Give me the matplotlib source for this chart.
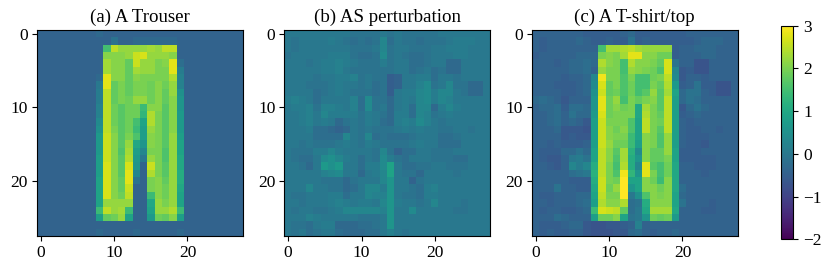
import numpy as np
import matplotlib
matplotlib.use('Agg')  # no display
import matplotlib.pyplot as plt

plt.rcParams['font.family'] = ['Liberation Serif', 'DejaVu Serif']

titles = ['(a) A Trouser', '(b) AS perturbation', '(c) A T-shirt/top']
xticks = [0, 10, 20]
yticks = [0, 10, 20]
cbar_ticks = [-2, -1, 0, 1, 2, 3]

# pixel values, in tenths
trouser = [
    [-4,-4,-4,-4,-4,-4,-4,-4,-3,-4,-4,-4,-4,-4,-4,-4,-4,-4,-4,-4,-4,-4,-4,-4,-4,-4,-4,-4],
    [-4,-4,-4,-4,-4,-4,-4,-4,-4,-4,-1,-4,-4,-3,-3,-3,-3,-3,-3,-4,-4,-4,-4,-4,-4,-4,-4,-4],
    [-4,-4,-4,-4,-4,-4,-4,-4,-4,15,25,22,22,22,22,23,22,25,25,-4,-4,-4,-4,-4,-4,-4,-4,-4],
    [-4,-4,-4,-4,-4,-4,-4,-4,-4,21,21,21,22,26,27,22,22,22,21,-4,-4,-4,-4,-4,-4,-4,-4,-4],
    [-4,-4,-4,-4,-4,-4,-4,-4,-4,23,21,21,18,26,22,22,20,21,28,-2,-4,-4,-4,-4,-4,-4,-4,-4],
    [-4,-4,-4,-4,-4,-4,-4,-4,-4,23,21,21,18,23,22,22,20,20,28,1,-4,-4,-4,-4,-4,-4,-4,-4],
    [-4,-4,-4,-4,-4,-4,-4,-4,-3,28,21,21,18,21,20,20,20,20,24,2,-4,-4,-4,-4,-4,-4,-4,-4],
    [-4,-4,-4,-4,-4,-4,-4,-4,0,28,18,20,18,20,20,19,21,19,22,2,-4,-4,-4,-4,-4,-4,-4,-4],
    [-4,-4,-4,-4,-4,-4,-4,-4,1,25,18,20,18,20,20,19,21,18,22,5,-4,-4,-4,-4,-4,-4,-4,-4],
    [-4,-4,-4,-4,-4,-4,-4,-4,1,25,18,20,19,22,22,19,21,18,21,6,-4,-4,-4,-4,-4,-4,-4,-4],
    [-4,-4,-4,-4,-4,-4,-4,-4,2,25,19,17,19,19,14,21,21,17,21,6,-4,-4,-4,-4,-4,-4,-4,-4],
    [-4,-4,-4,-4,-4,-4,-4,-4,2,25,19,17,19,19,13,24,20,17,21,7,-4,-4,-4,-4,-4,-4,-4,-4],
    [-4,-4,-4,-4,-4,-4,-4,-4,4,25,19,17,19,15,9,24,20,17,21,7,-4,-4,-4,-4,-4,-4,-4,-4],
    [-4,-4,-4,-4,-4,-4,-4,-4,5,25,20,17,19,14,8,22,20,17,21,7,-4,-4,-4,-4,-4,-4,-4,-4],
    [-4,-4,-4,-4,-4,-4,-4,-4,7,26,21,17,20,16,8,21,20,17,22,8,-4,-4,-4,-4,-4,-4,-4,-4],
    [-4,-4,-4,-4,-4,-4,-4,-4,7,26,21,17,22,10,6,21,20,17,22,9,-4,-4,-4,-4,-4,-4,-4,-4],
    [-4,-4,-4,-4,-4,-4,-4,-4,7,26,21,16,23,8,3,20,20,16,22,9,-4,-4,-4,-4,-4,-4,-4,-4],
    [-4,-4,-4,-4,-4,-4,-4,-4,8,26,21,17,24,7,0,22,20,16,22,10,-4,-4,-4,-4,-4,-4,-4,-4],
    [-4,-4,-4,-4,-4,-4,-4,-4,8,27,21,17,27,6,-4,26,20,17,22,10,-4,-4,-4,-4,-4,-4,-4,-4],
    [-4,-4,-4,-4,-4,-4,-4,-4,8,27,21,17,28,3,-4,24,20,17,22,11,-4,-4,-4,-4,-4,-4,-4,-4],
    [-4,-4,-4,-4,-4,-4,-4,-4,9,27,21,18,28,-1,-4,20,21,18,22,11,-4,-4,-4,-4,-4,-4,-4,-4],
    [-4,-4,-4,-4,-4,-4,-4,-4,9,27,21,18,26,-4,-4,20,21,19,22,10,-4,-4,-4,-4,-4,-4,-4,-4],
    [-4,-4,-4,-4,-4,-4,-4,-4,9,27,21,19,25,-4,-4,14,21,19,22,9,-4,-4,-4,-4,-4,-4,-4,-4],
    [-4,-4,-4,-4,-4,-4,-4,-4,9,22,22,22,22,-4,-4,10,22,20,22,9,-4,-4,-4,-4,-4,-4,-4,-4],
    [-4,-4,-4,-4,-4,-4,-4,-4,14,25,22,23,14,-4,-4,9,22,22,24,14,-4,-4,-4,-4,-4,-4,-4,-4],
    [-4,-4,-4,-4,-4,-4,-4,-4,8,18,19,22,9,-4,-4,7,19,18,21,8,-4,-4,-4,-4,-4,-4,-4,-4],
    [-4,-4,-4,-4,-4,-4,-4,-4,-4,-4,-4,-4,-4,-4,-4,-4,-4,-4,-4,-4,-4,-4,-4,-4,-4,-4,-4,-4],
    [-4,-4,-4,-4,-4,-4,-4,-4,-3,-4,-4,-4,-4,-3,-4,-4,-4,-4,-4,-3,-4,-4,-4,-4,-4,-4,-4,-4],
]

perturbation = [
    [0,0,0,0,0,0,0,0,0,-1,-1,-1,-1,0,-1,0,-1,-1,-1,-1,-1,0,0,0,0,0,0,0],
    [0,-1,0,0,0,0,1,0,-1,-2,-1,-2,-1,3,-2,0,-1,-1,-2,-1,-1,-1,0,1,1,1,0,0],
    [0,-1,0,0,0,0,0,0,0,-1,-1,-1,0,3,-1,0,0,-1,-1,-1,0,0,1,1,1,0,0,0],
    [-1,0,0,0,0,0,1,1,1,-1,-2,-2,-1,4,-1,0,-1,-2,-2,-1,0,0,0,1,1,0,0,0],
    [0,0,0,-1,0,1,1,2,1,0,-1,-1,-1,1,-1,0,0,-2,-2,-1,0,0,-3,-3,0,0,0,0],
    [0,0,0,0,0,1,1,2,0,-1,-1,-1,-1,-1,-1,0,0,-2,-1,0,-2,-1,-3,-3,0,0,0,0],
    [0,0,0,0,-1,0,0,1,1,2,-1,0,-1,-1,-5,-4,0,0,1,1,-2,0,0,-1,0,0,0,0],
    [0,0,0,-1,-1,-1,0,1,0,0,-1,0,-2,-1,-5,-4,0,0,2,4,-1,0,3,-1,-1,-3,-3,0],
    [0,0,0,0,-2,-1,0,1,0,-1,-1,-1,-2,-1,-5,0,1,1,3,4,1,3,3,0,-1,-3,-3,0],
    [1,2,1,0,-2,0,0,0,0,2,-2,4,-1,-1,-3,0,1,0,3,4,1,3,2,0,0,0,0,0],
    [0,1,1,2,-1,2,2,1,0,2,-2,4,-1,0,-3,0,1,-2,3,3,-3,1,3,1,0,0,0,0],
    [0,0,1,2,0,3,1,1,1,1,-1,1,0,-1,-3,1,1,-2,3,2,-1,0,1,0,0,0,0,0],
    [0,0,1,2,0,1,0,-3,-1,0,-1,1,0,-2,-3,1,2,1,4,2,0,-1,0,0,0,0,0,0],
    [0,0,0,1,-2,-2,-3,-4,-3,0,-1,0,-1,-1,-1,0,1,0,1,0,0,-1,-1,0,0,-1,0,0],
    [0,0,0,0,-2,-2,-2,-2,3,0,-1,3,-2,-1,-2,-2,-2,-1,0,0,0,-2,-2,-1,0,0,0,0],
    [0,0,-1,0,-1,-1,-1,0,1,0,-1,1,0,-1,-1,-1,-1,0,1,0,0,-2,-2,-2,0,0,0,0],
    [0,-1,-1,-1,1,1,3,1,0,0,0,0,-1,3,-1,-4,-2,-2,0,0,-1,-1,-1,0,0,0,0,0],
    [0,-1,-2,-2,0,4,5,3,1,0,-2,0,-1,4,1,-1,-2,0,0,0,-1,-1,-1,-2,-2,0,0,0],
    [0,0,-1,-3,0,7,5,7,0,0,-2,1,1,4,9,0,-2,-2,-1,-1,0,0,-1,-1,-1,0,0,0],
    [0,0,0,0,0,2,3,4,0,0,-3,0,1,3,9,0,-1,-1,-3,0,0,0,0,-1,0,0,0,0],
    [0,0,0,0,0,-1,-1,-1,-3,-1,0,0,0,3,6,0,0,-4,-1,0,0,0,0,0,0,0,0,0],
    [0,0,0,3,0,0,-1,-1,-3,-2,0,3,3,1,6,0,0,-1,-2,1,2,0,0,0,0,0,0,0],
    [0,-1,-1,0,0,0,1,1,-2,0,0,3,2,2,6,0,-1,-1,-2,1,1,0,0,0,0,0,0,0],
    [0,0,-1,0,0,0,1,2,1,0,1,1,0,3,6,1,0,0,-1,0,3,0,0,0,-1,0,0,0],
    [0,-1,0,0,-1,-1,0,1,3,3,3,3,3,2,6,0,0,4,0,0,0,0,0,-1,-1,0,0,0],
    [0,0,0,2,1,0,0,0,0,0,-1,-1,-1,0,6,0,0,0,0,0,0,0,0,0,0,0,0,0],
    [0,-1,-1,-2,0,1,1,-3,-3,-3,-2,-2,-1,0,6,0,0,0,0,0,0,0,0,0,0,0,0,0],
    [0,-1,0,-2,-1,0,0,-2,-3,-3,-3,-2,-2,0,2,0,-1,0,0,0,0,0,0,0,0,0,0,0],
]

tshirt = [
    [-4,-4,-4,-4,-4,-4,-4,-5,-5,-5,-5,-5,-4,-3,-5,-5,-5,-5,-5,-5,-5,-4,-4,-4,-4,-4,-4,-4],
    [-4,-5,-4,-4,-4,-4,-3,-4,-5,-5,-4,-5,-5,-1,-5,-4,-5,-5,-5,-5,-5,-5,-4,-3,-3,-3,-4,-4],
    [-4,-5,-4,-4,-4,-4,-4,-4,-4,15,23,23,24,25,23,22,22,22,22,-5,-4,-4,-3,-3,-3,-4,-4,-4],
    [-5,-4,-4,-4,-4,-4,-3,-3,-3,20,21,20,23,28,28,21,21,19,19,-5,-4,-4,-4,-3,-3,-4,-4,-4],
    [-4,-4,-4,-5,-4,-3,-3,-2,-3,24,21,20,15,24,21,21,20,18,27,-1,-4,-4,-7,-7,-4,-4,-4,-4],
    [-4,-4,-4,-4,-4,-3,-3,-2,-4,22,20,20,15,22,21,20,19,16,27,3,-6,-5,-7,-7,-4,-4,-4,-4],
    [-4,-4,-4,-4,-5,-4,-4,-3,3,29,20,20,16,20,15,15,19,20,25,4,-6,-4,-4,-5,-4,-4,-4,-4],
    [-4,-4,-4,-5,-5,-5,-4,-3,4,27,18,20,16,19,15,15,20,18,24,7,-5,-4,-1,-5,-5,-7,-7,-4],
    [-4,-4,-4,-4,-5,-5,-4,-3,5,26,18,19,16,19,15,17,22,17,23,9,-3,-1,-1,-4,-5,-7,-7,-4],
    [-3,-2,-3,-4,-6,-4,-4,-4,6,28,19,22,15,20,18,20,21,17,25,8,-3,-1,-2,-4,-4,-4,-4,-4],
    [-4,-3,-3,-2,-5,-2,-2,-3,6,28,19,21,19,20,10,23,20,17,25,8,-6,-3,-1,-3,-4,-4,-4,-4],
    [-4,-4,-3,-2,-4,-1,-3,-3,7,27,19,20,20,20,10,24,20,18,25,8,-5,-4,-3,-4,-4,-4,-4,-4],
    [-4,-4,-3,-2,-4,-3,-4,-6,8,26,20,20,20,16,9,25,20,19,25,8,-4,-5,-4,-4,-4,-4,-4,-4],
    [-4,-4,-4,-3,-6,-6,-6,-7,8,26,21,19,21,16,9,25,20,17,25,8,-4,-5,-5,-4,-4,-5,-4,-4],
    [-4,-4,-4,-4,-6,-5,-6,-6,8,26,21,20,20,14,9,21,20,16,22,8,-4,-5,-5,-5,-4,-4,-4,-4],
    [-4,-4,-5,-4,-5,-5,-5,-4,8,26,22,19,19,14,8,21,20,16,22,8,-4,-5,-5,-6,-4,-4,-4,-4],
    [-4,-5,-5,-5,-3,-3,-1,-3,9,25,21,17,23,12,4,21,18,18,22,9,-5,-5,-5,-4,-4,-4,-4,-4],
    [-4,-5,-6,-6,-4,0,1,-1,9,25,21,16,23,11,6,21,18,18,20,9,-5,-5,-5,-5,-5,-4,-4,-4],
    [-4,-4,-5,-6,-4,3,1,3,11,25,20,15,24,11,3,28,17,15,19,10,-4,-4,-5,-5,-5,-4,-4,-4],
    [-4,-4,-4,-4,-4,-2,-1,0,12,25,20,16,29,13,6,28,20,15,19,10,-4,-4,-4,-5,-4,-4,-4,-4],
    [-4,-4,-4,-4,-4,-5,-5,-5,11,26,20,19,30,9,9,21,19,14,21,10,-4,-4,-4,-4,-4,-4,-4,-4],
    [-4,-4,-4,-1,-4,-4,-5,-5,10,26,19,22,30,6,9,21,21,19,21,10,-2,-4,-4,-4,-4,-4,-4,-4],
    [-4,-5,-5,-4,-4,-4,-3,-3,9,25,20,20,30,0,5,16,21,20,21,9,-3,-4,-4,-4,-4,-4,-4,-4],
    [-4,-4,-5,-4,-4,-4,-3,-2,8,24,21,21,24,-2,-1,11,21,21,21,9,-1,-4,-4,-4,-5,-4,-4,-4],
    [-4,-5,-4,-4,-5,-5,-4,-3,14,27,26,25,18,-2,0,10,23,23,23,10,-4,-4,-4,-5,-5,-4,-4,-4],
    [-4,-4,-4,-2,-3,-4,-4,-4,8,19,19,21,9,-1,0,6,19,18,19,7,-4,-4,-4,-4,-4,-4,-4,-4],
    [-4,-5,-5,-5,-4,-3,-3,-6,-7,-7,-6,-6,-5,-4,2,-4,-4,-4,-4,-4,-4,-4,-4,-4,-4,-4,-4,-4],
    [-4,-5,-4,-5,-5,-4,-4,-6,-7,-7,-7,-6,-6,-3,-2,-4,-5,-4,-4,-3,-4,-4,-4,-4,-4,-4,-4,-4],
]

W, H = 830, 271
fig = plt.figure(figsize=(W / 100, H / 100), dpi=100)

panels = [trouser, perturbation, tshirt]
lefts = [36.7, 284.3, 531.7]
for panel, title, left in zip(panels, titles, lefts):
    ax = fig.add_axes([left / W, (H - 235.7) / H, 206 / W, 205.7 / H])
    im = ax.imshow(np.array(panel) / 10, cmap='viridis', vmin=-2, vmax=3)
    ax.set_xticks(xticks)
    ax.set_yticks(yticks)
    ax.tick_params(labelsize=12.5, pad=3)
    ax.set_title(title, fontsize=13.6, pad=5.5)

cax = fig.add_axes([781 / W, (H - 239.3) / H, 11.7 / W, 213.6 / H])
cbar = fig.colorbar(im, cax=cax)
cbar.set_ticks(cbar_ticks)
cbar.ax.tick_params(labelsize=12.5, pad=4)

fig.savefig('out.png', dpi=100)
